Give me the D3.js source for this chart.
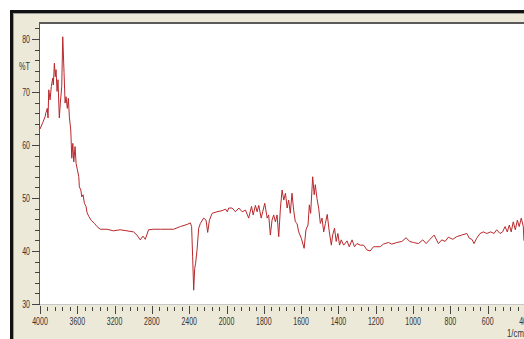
<!DOCTYPE html>
<meta charset="utf-8">
<style>
body { margin: 0; background: #fff; overflow: hidden; }
svg  { display: block; }
.lbl { font-family: "Liberation Sans Narrow", "Liberation Sans", sans-serif; font-size: 11px; fill: #333; }
</style>
<body>
<svg width="524" height="339"></svg>
<script src="https://d3js.org/d3.v7.min.js"></script>
<script>

// wavenumber (1/cm) and transmittance (%T)
var wavenumber = [4000,3971,3946,3936,3922,3914,3906,3892,3879,3863,3857,3846,3836,3828,3817,3807,3793,3782,3767,3756,
  3742,3731,3721,3707,3696,3685,3670,3659,3648,3638,3624,3613,3599,3584,3578,3562,3552,3538,3524,3506,3495,3476,3452,3416,
  3388,3355,3283,3212,3140,3068,2997,2960,2925,2896,2871,2836,2782,2710,2638,2567,2495,2423,2388,2374,2363,2352,2341,2331,
  2316,2298,2280,2245,2219,2202,2183,2154,2101,2047,2011,
  1996,1988,1970,1952,1934,1916,1898,1881,1866,1857,1845,1836,1827,1814,1806,1795,1782,1774,1765,1756,1747,1738,1729,1720,
  1711,1702,1693,1684,1675,1667,1658,1649,1640,1631,1622,1613,1599,1584,1574,1563,1556,1549,1538,1530,1524,1515,1506,1497,
  1488,1479,1470,1460,1449,1438,1431,1421,1412,1403,1394,1385,1372,1354,1342,1327,1314,1301,1283,1265,1247,1230,1212,1203,
  1176,1159,1132,1114,1087,1060,1037,1019,998,971,948,930,909,887,864,846,828,811,787,766,739,712,698,685,673,659,641,623,
  605,584,566,552,534,520,507,495,484,474,463,452,441,431,420,409,406,400];
var transmittance = [63.0,64.2,65.3,66.1,66.9,65.1,70.4,68.5,71.0,72.6,71.3,75.4,72.9,74.2,70.1,72.3,65.1,67.9,71.0,80.4,
  73.6,67.9,69.1,66.9,68.8,65.3,62.8,57.5,60.3,56.8,59.7,56.5,55.3,54.0,52.1,51.5,50.2,50.6,49.0,48.4,47.2,46.5,45.8,45.2,
  44.6,44.1,44.1,43.8,44.0,43.8,43.6,43.0,42.1,42.8,42.2,44.0,44.1,44.1,44.1,44.1,44.6,45.0,45.3,44.6,38.9,32.6,36.7,37.7,
  40.2,44.3,45.2,46.2,45.8,43.5,45.8,47.1,47.4,47.6,47.9,
  47.4,48.1,48.1,47.4,48.1,47.4,47.7,46.2,48.4,46.8,48.6,47.4,48.6,46.2,47.4,49.0,46.2,46.8,43.0,45.8,46.8,45.5,46.8,42.7,
  48.1,51.5,49.6,50.9,48.1,49.6,47.1,50.9,47.7,45.5,45.2,43.6,42.4,40.5,44.0,44.9,48.7,47.1,54.0,50.6,52.5,49.9,48.1,45.2,
  46.2,43.6,45.2,46.9,43.6,41.1,43.0,44.3,41.8,43.3,41.1,42.1,41.1,41.9,40.8,42.1,40.8,41.4,41.1,41.1,40.2,40.0,40.8,40.8,
  40.8,41.3,41.6,41.3,41.6,41.8,42.5,41.8,41.6,41.4,42.1,41.4,42.2,43.0,41.4,42.1,41.8,42.6,42.2,42.7,43.0,43.3,42.4,42.2,41.4,42.4,43.3,43.6,
  43.3,43.6,43.3,44.0,43.3,43.6,44.6,43.6,44.9,43.6,45.5,44.0,45.8,44.6,46.2,44.6,42.1,41.5];

var xMajor = [4000,3600,3200,2800,2400,2000,1800,1600,1400,1200,1000,800,600,400];
var yMajor = [30,40,50,60,70,80];

var svg = d3.select("svg");

// plot box  (don't call it "top", that's window.top)
var pLeft = 40, pTop = 23, pBottom = 304, pRight = 524;

// the x axis is split: 400 per step above 2000, 200 per step below
var x = d3.scaleLinear().domain([4000, 2000, 400]).range([40, 226.5, 525]);
var y = d3.scaleLinear().domain([30, 83]).range([pBottom, pTop]);

// window frame
svg.append("rect").attr("x", 10).attr("y", 10).attr("width", 530).attr("height", 340).attr("fill", "#ece9d8");
svg.append("rect").attr("x", 11.5).attr("y", 11.5).attr("width", 530).attr("height", 340)
   .attr("fill", "none").attr("stroke", "#111").attr("stroke-width", 3);
svg.append("rect").attr("x", 13.5).attr("y", 13.5).attr("width", 530).attr("height", 340)
   .attr("fill", "none").attr("stroke", "#9a9a9a").attr("stroke-width", 1);

// white plot area with sunken border
svg.append("rect").attr("x", pLeft).attr("y", pTop).attr("width", pRight - pLeft + 5).attr("height", pBottom - pTop).attr("fill", "#fff");
svg.append("line").attr("x1", pLeft).attr("x2", pRight + 5).attr("y1", pBottom + 0.5).attr("y2", pBottom + 0.5).attr("stroke", "#c8c8c8");
svg.append("line").attr("x1", pLeft - 1).attr("x2", pRight + 5).attr("y1", pTop).attr("y2", pTop).attr("stroke", "#5a5a5a").attr("stroke-width", 2);
svg.append("line").attr("x1", pLeft - 0.5).attr("x2", pLeft - 0.5).attr("y1", pTop).attr("y2", pBottom + 1).attr("stroke", "#5a5a5a");

// narrow label helper: squeeze digits like the old MS Sans Serif look
function squeeze(sel) {
  sel.attr("textLength", function(d) { return String(d).length * 3.9; })
     .attr("lengthAdjust", "spacingAndGlyphs");
}

// y ticks
var yMinor = d3.range(30, 83.1, 2);
svg.selectAll(".ytick").data(yMinor).enter().append("line")
   .attr("x1", function(d) { return yMajor.indexOf(d) >= 0 ? 32 : 35; })
   .attr("x2", pLeft)
   .attr("y1", function(d) { return Math.round(y(d)) + 0.5; })
   .attr("y2", function(d) { return Math.round(y(d)) + 0.5; })
   .attr("stroke", "#444");
svg.selectAll(".ylab").data(yMajor).enter().append("text").attr("class", "lbl")
   .attr("x", 30).attr("y", function(d) { return y(d) + 4; })
   .attr("text-anchor", "end").text(function(d) { return d; })
   .call(squeeze);
svg.append("text").attr("class", "lbl").attr("x", 30).attr("y", 70).attr("text-anchor", "end")
   .attr("textLength", 11).attr("lengthAdjust", "spacingAndGlyphs").text("%T");

// x ticks
var xMinor = d3.range(4000, 2000, -80).concat(d3.range(2000, 399, -40));
svg.selectAll(".xtick").data(xMinor).enter().append("line")
   .attr("x1", function(d) { return Math.round(x(d)) + 0.5; })
   .attr("x2", function(d) { return Math.round(x(d)) + 0.5; })
   .attr("y1", function(d) { return xMajor.indexOf(d) >= 0 ? 306 : 307; })
   .attr("y2", function(d) { return xMajor.indexOf(d) >= 0 ? 314 : 311; })
   .attr("stroke", "#444");
svg.selectAll(".xlab").data(xMajor).enter().append("text").attr("class", "lbl")
   .attr("x", function(d) { return x(d); }).attr("y", 325)
   .attr("text-anchor", "middle").text(function(d) { return d; })
   .call(squeeze);
svg.append("text").attr("class", "lbl").attr("x", 507).attr("y", 337)
   .attr("textLength", 17).attr("lengthAdjust", "spacingAndGlyphs").text("1/cm");

// spectrum
var pts = wavenumber.map(function(d, i) { return [d, transmittance[i]]; });
svg.append("clipPath").attr("id", "plotclip").append("rect")
   .attr("x", pLeft).attr("y", pTop + 1).attr("width", pRight - pLeft).attr("height", pBottom - pTop - 1);
svg.append("path").datum(pts)
   .attr("clip-path", "url(#plotclip)")
   .attr("fill", "none").attr("stroke", "#b8282c").attr("stroke-width", 1)
   .attr("d", d3.line().x(function(d) { return x(d[0]); }).y(function(d) { return y(d[1]); }));

</script>
</body>
